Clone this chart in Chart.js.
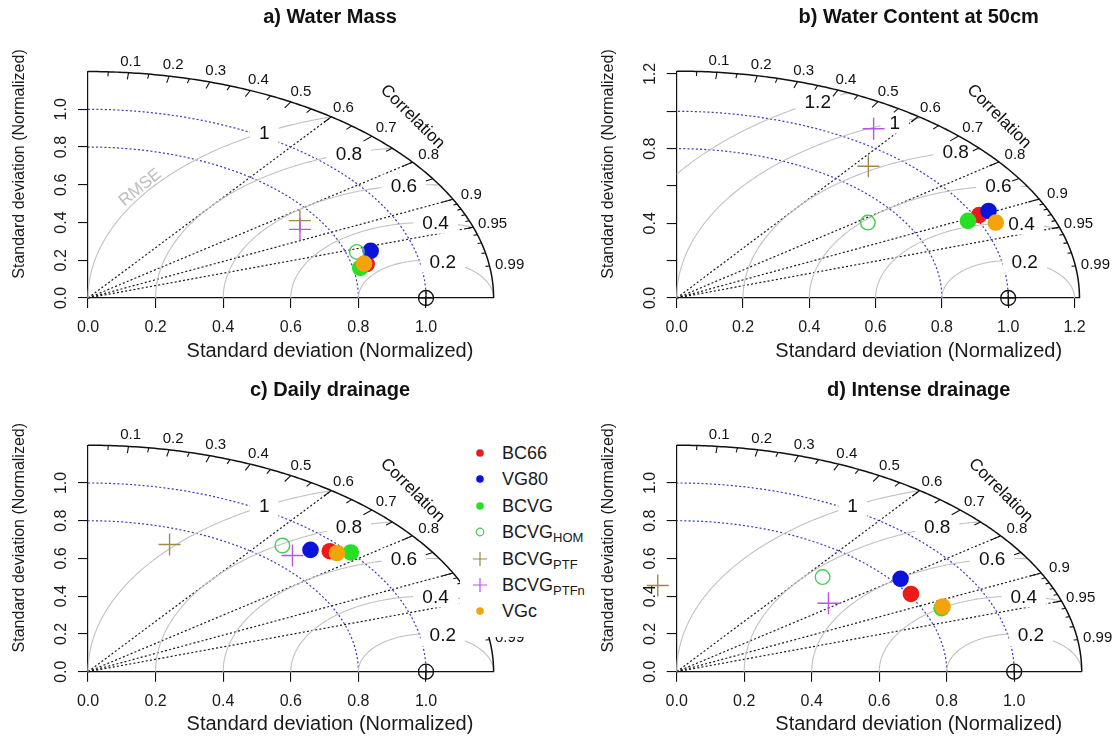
<!DOCTYPE html>
<html>
<head>
<meta charset="utf-8">
<title>Taylor diagrams</title>
<script src="https://cdn.jsdelivr.net/npm/chart.js@4.4.1/dist/chart.umd.min.js"></script>
<style>
  html, body { margin: 0; padding: 0; background: #fff; }
  body { width: 1117px; height: 742px; position: relative; overflow: hidden;
         font-family: "Liberation Sans", Arial, sans-serif; }
  canvas { position: absolute; }
  #legend { position: absolute; left: 460px; top: 437px; width: 132px; height: 200px; background: #fff; }
  .row { position: absolute; left: 0; width: 132px; height: 26px; }
  .row svg { position: absolute; left: 13px; top: 6px; }
  .row span { position: absolute; left: 42px; top: 0; line-height: 26px; font-size: 18px; color: #1a1a1a; white-space: nowrap; }
  .row sub { font-size: 13px; vertical-align: -4px; line-height: 0; }
</style>
</head>
<body>
<canvas id="cA" width="558" height="371" style="left:0;top:0"></canvas>
<canvas id="cB" width="558" height="371" style="left:558px;top:0"></canvas>
<canvas id="cC" width="558" height="371" style="left:0;top:371px"></canvas>
<canvas id="cD" width="558" height="371" style="left:558px;top:371px"></canvas>
<div id="legend"></div>
<script>
// models, in legend / drawing order
const models   = ["BC66", "VG80", "BCVG", "BCVG", "BCVG", "BCVG", "VGc"];
const modelSub = ["", "", "", "HOM", "PTF", "PTFn", ""];
const colors   = ["#ee1a1a", "#0b12dc", "#26e026", "#48cc58", "#a08848", "#bb55e0", "#f5a30c"];
const shapes   = ["dot", "dot", "dot", "ring", "plus", "plus", "dot"];

// normalized standard deviation and correlation of each model
const sdA  = [0.844, 0.873, 0.821, 0.832, 0.749, 0.725, 0.837];
const corA = [0.977, 0.958, 0.981, 0.956, 0.837, 0.865, 0.976];
const sdB  = [1.015, 1.050, 0.971, 0.704, 0.912, 1.084, 1.044];
const corB = [0.899, 0.896, 0.905, 0.819, 0.634, 0.548, 0.922];
const sdC  = [0.959, 0.922, 1.002, 0.882, 0.716, 0.863, 0.968];
const corC = [0.746, 0.714, 0.776, 0.652, 0.337, 0.701, 0.761];
const sdD  = [0.807, 0.826, 0.854, 0.662, 0.460, 0.578, 0.860];
const corD = [0.860, 0.803, 0.919, 0.653, -0.122, 0.778, 0.916];

// diagram grid values
const corrGrid   = [0.6, 0.8, 0.9, 0.95];
const corrLabels = [0.1, 0.2, 0.3, 0.4, 0.5, 0.6, 0.7, 0.8, 0.9, 0.95, 0.99];
const sdArcs     = [0.8, 1.0];
const refSd      = 1.0;
const gamma5     = [0.2, 0.4, 0.6, 0.8, 1.0];
const gamma6     = [0.2, 0.4, 0.6, 0.8, 1.0, 1.2];
const ticks10    = [0, 0.2, 0.4, 0.6, 0.8, 1.0];
const ticks12    = [0, 0.2, 0.4, 0.6, 0.8, 1.0, 1.2];
const ylab12     = [0, 0.4, 0.8, 1.2];

const FONT = '"Liberation Sans", Arial, sans-serif';

function polyline(ctx, pts) {
  ctx.beginPath();
  pts.forEach((p, i) => i ? ctx.lineTo(p[0], p[1]) : ctx.moveTo(p[0], p[1]));
  ctx.stroke();
}

const taylorPlugin = {
  id: 'taylor',
  beforeDatasetsDraw(chart, args, o) {
    const ctx = chart.ctx;
    const xs = chart.scales.x, ys = chart.scales.y;
    const P = (a, b) => [xs.getPixelForValue(a), ys.getPixelForValue(b)];
    const m = o.maxsd;
    const arcPts = (cx, r, t0, t1) => {
      const n = 200, pts = [];
      for (let k = 0; k <= n; k++) {
        const t = t0 + (t1 - t0) * k / n;
        pts.push(P(cx + r * Math.cos(t), r * Math.sin(t)));
      }
      return pts;
    };
    ctx.save();

    // correlation rays
    ctx.lineWidth = 1.2;
    ctx.strokeStyle = '#1a1a1a';
    ctx.setLineDash([2, 2.2]);
    corrGrid.forEach(c => polyline(ctx, [P(0, 0), P(m * c, m * Math.sqrt(1 - c * c))]));

    // standard deviation arcs
    ctx.strokeStyle = '#3a3ac0';
    sdArcs.forEach(r => polyline(ctx, arcPts(0, r, 0, Math.PI / 2)));
    ctx.setLineDash([]);

    // RMSE arcs around the reference point
    ctx.strokeStyle = '#c2c2c2';
    ctx.lineWidth = 1.1;
    o.gammas.forEach(g => {
      const t0 = Math.acos(Math.max(-1, Math.min(1, (m * m - refSd * refSd - g * g) / (2 * refSd * g))));
      const t1 = g <= refSd ? Math.PI : Math.acos(-refSd / g);
      polyline(ctx, arcPts(refSd, g, t0, t1));
    });

    // RMSE labels on white boxes
    ctx.font = '19px ' + FONT;
    ctx.textAlign = 'center';
    ctx.textBaseline = 'middle';
    const n = o.gammas.length;
    o.gammas.forEach((g, k) => {
      const idx = Math.floor(45 + k * 25 / (n - 1));
      const a = (idx - 1) * 0.03;
      const gx = refSd + g * Math.cos(a), gy = g * Math.sin(a);
      if (gx <= 0) return;
      const [lx, ly] = P(gx, gy);
      const lab = String(g);
      const w = ctx.measureText(lab).width + 18, h = 22;
      ctx.fillStyle = '#fff';
      ctx.fillRect(lx - w / 2, ly - h / 2, w, h);
      ctx.fillStyle = '#111';
      ctx.fillText(lab, lx, ly + 1);
    });

    // outer arc and correlation ticks
    ctx.strokeStyle = '#111';
    ctx.lineWidth = 1.5;
    polyline(ctx, arcPts(0, m, 0, Math.PI / 2));
    ctx.lineWidth = 1.1;
    const tick = (c, f) => {
      const s = Math.sqrt(1 - c * c);
      polyline(ctx, [P(m * c, m * s), P(f * m * c, f * m * s)]);
    };
    for (let c = 0.1; c < 0.95; c += 0.1) tick(c, 0.97);
    for (let c = 0.05; c < 1; c += 0.1) tick(c, 0.98);
    for (let c = 0.91; c < 0.995; c += 0.01) tick(c, 0.99);

    ctx.fillStyle = '#111';
    ctx.font = '15px ' + FONT;
    corrLabels.forEach(c => {
      const [lx, ly] = P(1.05 * m * c, 1.05 * m * Math.sqrt(1 - c * c));
      ctx.fillText(String(c), lx, ly);
    });

    ctx.save();
    const [cxp, cyp] = P(0.8 * m, 0.8 * m);
    ctx.translate(cxp, cyp);
    ctx.rotate(Math.PI / 4);
    ctx.font = '17px ' + FONT;
    ctx.fillText('Correlation', 0, 0);
    ctx.restore();

    if (o.rmseText) {
      ctx.save();
      const [rx, ry] = P(0.155, 0.585);
      ctx.translate(rx, ry);
      ctx.rotate(-39 * Math.PI / 180);
      ctx.font = '17px ' + FONT;
      ctx.fillStyle = '#bdbdbd';
      ctx.fillText('RMSE', 0, 0);
      ctx.restore();
    }

    // reference point
    const [rpx, rpy] = P(refSd, 0);
    ctx.lineWidth = 1.3;
    ctx.strokeStyle = '#111';
    ctx.beginPath(); ctx.arc(rpx, rpy, 7.5, 0, 2 * Math.PI); ctx.stroke();
    polyline(ctx, [[rpx, rpy - 7.5], [rpx, rpy + 7.5]]);
    polyline(ctx, [[rpx - 7.5, rpy], [rpx + 7.5, rpy]]);

    // axis tick labels
    ctx.font = '16px ' + FONT;
    ctx.fillStyle = '#1a1a1a';
    const bottom = chart.chartArea.bottom, left = chart.chartArea.left;
    o.xTicks.forEach(v => ctx.fillText(v.toFixed(1), xs.getPixelForValue(v), bottom + 30));
    o.yLabels.forEach(v => {
      ctx.save();
      ctx.translate(left - 26.5, ys.getPixelForValue(v));
      ctx.rotate(-Math.PI / 2);
      ctx.fillText(v.toFixed(1), 0, 0);
      ctx.restore();
    });

    // axis titles and panel title
    ctx.font = '20px ' + FONT;
    ctx.fillText('Standard deviation (Normalized)', left + 242, bottom + 53);
    ctx.save();
    ctx.translate(left - 68, bottom - 134);
    ctx.rotate(-Math.PI / 2);
    ctx.font = '16px ' + FONT;
    ctx.fillText('Standard deviation (Normalized)', 0, 0);
    ctx.restore();
    ctx.font = 'bold 20px ' + FONT;
    ctx.fillStyle = '#111';
    ctx.fillText(o.title, left + 242, bottom - 281);

    ctx.restore();
  }
};

function makeDatasets(sd, cor) {
  return models.map((name, i) => {
    const s = sd[i], c = cor[i], st = shapes[i];
    return {
      label: name + modelSub[i],
      data: [{ x: s * c, y: s * Math.sqrt(1 - c * c) }],
      pointStyle: st === 'plus' ? 'cross' : 'circle',
      pointRadius: st === 'plus' ? 11 : (st === 'ring' ? 7.3 : 8.3),
      // a large hover radius widens the area check, so marks just outside the axes still draw
      pointHoverRadius: 40,
      backgroundColor: st === 'dot' ? colors[i] : 'rgba(0,0,0,0)',
      borderColor: colors[i],
      borderWidth: st === 'dot' ? 0 : 1.4,
      clip: false,
      order: models.length - i
    };
  });
}

function makeTaylor(id, cfg) {
  const W = 558, H = 371;
  const right = cfg.left + cfg.maxsd * cfg.xUnit;
  const top = cfg.bottom - cfg.maxsd * cfg.yUnit;
  const axis = (tickVals, horiz) => ({
    type: 'linear', bounds: 'data',
    afterDataLimits: s => { s.min = 0; s.max = cfg.maxsd; },
    grid: { display: true, drawOnChartArea: false, drawTicks: true, tickLength: 10, color: '#111', lineWidth: 1.1 },
    border: { display: true, color: '#111', width: 1.2 },
    ticks: { display: false },
    afterBuildTicks: s => { s.ticks = tickVals.map(v => ({ value: v })); },
    afterFit: s => { if (horiz) s.height = 10; else s.width = 10; }
  });
  return new Chart(document.getElementById(id), {
    type: 'scatter',
    data: { datasets: makeDatasets(cfg.sd, cfg.cor) },
    options: {
      responsive: false,
      animation: false,
      events: [],
      layout: {
        autoPadding: false,
        padding: { left: cfg.left - 10, right: W - right, top: top, bottom: H - cfg.bottom - 10 }
      },
      plugins: {
        legend: { display: false },
        tooltip: { enabled: false },
        taylor: {
          maxsd: cfg.maxsd, gammas: cfg.gammas, xTicks: cfg.xTicks, yLabels: cfg.yLabels,
          title: cfg.title, rmseText: !!cfg.rmseText
        }
      },
      scales: { x: axis(cfg.xTicks, true), y: axis(cfg.yTicks, false) }
    },
    plugins: [taylorPlugin]
  });
}

makeTaylor('cA', { title: 'a) Water Mass', sd: sdA, cor: corA, maxsd: 1.2, gammas: gamma5,
  xTicks: ticks10, yTicks: ticks10, yLabels: ticks10, left: 88, bottom: 298, xUnit: 338, yUnit: 188.7, rmseText: true });
makeTaylor('cB', { title: 'b) Water Content at 50cm', sd: sdB, cor: corB, maxsd: 1.215, gammas: gamma6,
  xTicks: ticks12, yTicks: ticks12, yLabels: ylab12, left: 118.7, bottom: 298, xUnit: 331.5, yUnit: 186.7 });
makeTaylor('cC', { title: 'c) Daily drainage', sd: sdC, cor: corC, maxsd: 1.2, gammas: gamma5,
  xTicks: ticks10, yTicks: ticks10, yLabels: ticks10, left: 88, bottom: 300.7, xUnit: 338, yUnit: 188.7 });
makeTaylor('cD', { title: 'd) Intense drainage', sd: sdD, cor: corD, maxsd: 1.2, gammas: gamma5,
  xTicks: ticks10, yTicks: ticks10, yLabels: ticks10, left: 118.7, bottom: 300.7, xUnit: 337.5, yUnit: 188.7 });

// legend drawn over panel c
const legend = document.getElementById('legend');
models.forEach((name, i) => {
  const row = document.createElement('div');
  row.className = 'row';
  row.style.top = (3 + i * 26.4) + 'px';
  let sym;
  if (shapes[i] === 'dot') sym = `<circle cx="7" cy="7" r="3.8" fill="${colors[i]}"/>`;
  else if (shapes[i] === 'ring') sym = `<circle cx="7" cy="7" r="3.8" fill="none" stroke="${colors[i]}" stroke-width="1.2"/>`;
  else sym = `<path d="M0 7H14M7 0V14" stroke="${colors[i]}" stroke-width="1.2"/>`;
  row.innerHTML = `<svg width="14" height="14">${sym}</svg><span>${name}${modelSub[i] ? '<sub>' + modelSub[i] + '</sub>' : ''}</span>`;
  legend.appendChild(row);
});
</script>
</body>
</html>
